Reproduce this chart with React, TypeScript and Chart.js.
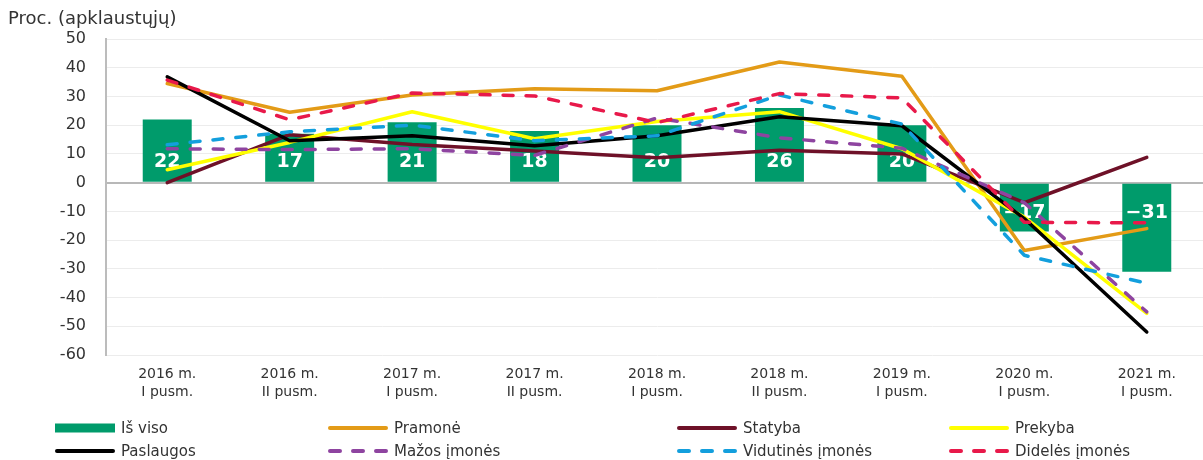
import React, { useEffect, useRef } from "react";
import { Chart, registerables } from "chart.js";

Chart.register(...registerables);

const categories: string[][] = [
  ["2016 m.", "I pusm."],
  ["2016 m.", "II pusm."],
  ["2017 m.", "I pusm."],
  ["2017 m.", "II pusm."],
  ["2018 m.", "I pusm."],
  ["2018 m.", "II pusm."],
  ["2019 m.", "I pusm."],
  ["2020 m.", "I pusm."],
  ["2021 m.", "I pusm."],
];

const isViso = [22, 17, 21, 18, 20, 26, 20, -17, -31];
const pramone = [34.5, 24.5, 30.5, 32.7, 32, 42, 37, -23.6, -16];
const statyba = [0, 16.7, 13.3, 11, 8.7, 11.3, 10, -7, 8.8];
const prekyba = [4.5, 14, 24.7, 15.3, 21.3, 24.7, 11.8, -12, -45.5];
const paslaugos = [36.8, 14.6, 16.3, 12.8, 16.3, 22.9, 19.8, -12.5, -52];
const mazos = [11.8, 11.5, 11.8, 9.5, 22.5, 15.6, 12, -7, -45];
const vidutines = [13.2, 17.7, 20, 14.6, 16.3, 30.5, 20.4, -25.3, -35];
const dideles = [35.7, 21.9, 31.2, 30.2, 20.9, 31, 29.5, -13.8, -14];

const yTicks = [50, 40, 30, 20, 10, 0, -10, -20, -30, -40, -50, -60];
const yTitle = "Proc. (apklaustųjų)";

const FONT = "'DejaVu Sans', sans-serif";
const TEXT = "#333333";

type LegendItem = { label: string; color: string; kind: "bar" | "line" | "dash" };

const legendItems: LegendItem[] = [
  { label: "Iš viso", color: "#009B6B", kind: "bar" },
  { label: "Pramonė", color: "#E39B17", kind: "line" },
  { label: "Statyba", color: "#6E1128", kind: "line" },
  { label: "Prekyba", color: "#FFFF00", kind: "line" },
  { label: "Paslaugos", color: "#000000", kind: "line" },
  { label: "Mažos įmonės", color: "#8E44A0", kind: "dash" },
  { label: "Vidutinės įmonės", color: "#139FDD", kind: "dash" },
  { label: "Didelės įmonės", color: "#E8194A", kind: "dash" },
];

const barLabelPlugin = {
  id: "barLabels",
  afterDatasetDraw(chart: any, args: any) {
    if (args.index !== 0) return;
    const { ctx } = chart;
    const meta = chart.getDatasetMeta(0);
    const y0 = chart.scales.y.getPixelForValue(0);
    ctx.save();
    ctx.fillStyle = "#ffffff";
    ctx.font = `bold 19px ${FONT}`;
    ctx.textAlign = "center";
    ctx.textBaseline = "middle";
    meta.data.forEach((el: any, i: number) => {
      const v = isViso[i];
      const txt = v < 0 ? "\u2212" + Math.abs(v) : String(v);
      const y = v >= 0 ? y0 - 21 : y0 + 30;
      ctx.fillText(txt, el.x, y);
    });
    ctx.restore();
  },
};

const legendPlugin = {
  id: "customLegend",
  afterDraw(chart: any) {
    const { ctx } = chart;
    const cols = [55, 328, 677, 949];
    const rows = [428, 451];
    ctx.save();
    ctx.font = `15px ${FONT}`;
    ctx.textBaseline = "middle";
    ctx.textAlign = "left";
    legendItems.forEach((it, i) => {
      const x = cols[i % 4];
      const y = rows[Math.floor(i / 4)];
      if (it.kind === "bar") {
        ctx.fillStyle = it.color;
        ctx.fillRect(x, y - 4.5, 60, 9);
      } else {
        ctx.strokeStyle = it.color;
        ctx.lineWidth = 4;
        ctx.lineCap = "round";
        ctx.setLineDash(it.kind === "dash" ? [10, 13] : []);
        ctx.beginPath();
        ctx.moveTo(x + 2, y);
        ctx.lineTo(x + 58, y);
        ctx.stroke();
        ctx.setLineDash([]);
      }
      ctx.fillStyle = TEXT;
      ctx.fillText(it.label, x + 66, y + 1);
    });
    ctx.restore();
  },
};

function lineDs(label: string, data: number[], color: string, dashed: boolean, order: number) {
  return {
    type: "line" as const,
    label,
    data,
    borderColor: color,
    backgroundColor: color,
    borderWidth: 3.5,
    borderDash: dashed ? [10, 13] : [],
    borderCapStyle: "round" as const,
    borderJoinStyle: "round" as const,
    pointRadius: 0,
    tension: 0,
    fill: false,
    order,
  };
}

export default function App() {
  const ref = useRef<HTMLCanvasElement | null>(null);

  useEffect(() => {
    if (!ref.current) return;
    const chart = new Chart(ref.current, {
      type: "bar",
      data: {
        labels: categories,
        datasets: [
          {
            type: "bar",
            label: legendItems[0].label,
            data: isViso,
            backgroundColor: legendItems[0].color,
            borderWidth: 0,
            barPercentage: 0.4,
            categoryPercentage: 1,
            order: 10,
          } as any,
          lineDs(legendItems[1].label, pramone, legendItems[1].color, false, 7),
          lineDs(legendItems[2].label, statyba, legendItems[2].color, false, 6),
          lineDs(legendItems[3].label, prekyba, legendItems[3].color, false, 5),
          lineDs(legendItems[4].label, paslaugos, legendItems[4].color, false, 4),
          lineDs(legendItems[5].label, mazos, legendItems[5].color, true, 3),
          lineDs(legendItems[6].label, vidutines, legendItems[6].color, true, 2),
          lineDs(legendItems[7].label, dideles, legendItems[7].color, true, 1),
        ],
      },
      options: {
        animation: false,
        responsive: false,
        maintainAspectRatio: false,
        layout: { padding: { top: 39, right: 0, bottom: 56, left: 0 } },
        plugins: {
          legend: { display: false },
          tooltip: { enabled: false },
        },
        scales: {
          x: {
            grid: { display: false, drawTicks: false },
            border: { display: false },
            ticks: {
              color: TEXT,
              font: { family: FONT, size: 14, lineHeight: 1.3 },
              padding: 10,
              maxRotation: 0,
              autoSkip: false,
            },
            afterFit: (s: any) => {
              s.height = 49;
            },
          },
          y: {
            min: -60,
            max: 50,
            afterBuildTicks: (s: any) => {
              s.ticks = yTicks.map((v) => ({ value: v }));
            },
            grid: {
              drawTicks: false,
              color: (c: any) => (c.tick && c.tick.value === 0 ? "#b8b8b8" : "#ececec"),
              lineWidth: (c: any) => (c.tick && c.tick.value === 0 ? 2 : 1),
            },
            border: { display: true, color: "#bcbcbc", width: 2 },
            ticks: {
              color: TEXT,
              font: { family: FONT, size: 16 },
              padding: 20,
            },
            afterFit: (s: any) => {
              s.width = 106;
            },
          },
        },
      },
      plugins: [barLabelPlugin, legendPlugin],
    });
    return () => chart.destroy();
  }, []);

  return (
    <div
      style={{
        position: "absolute",
        left: 0,
        top: 0,
        width: 1203,
        height: 460,
        overflow: "hidden",
        background: "#fff",
      }}
    >
      <canvas ref={ref} width={1208} height={460} style={{ position: "absolute", left: 0, top: 0 }} />
      <div
        style={{
          position: "absolute",
          left: 8,
          top: 7,
          fontFamily: FONT,
          fontSize: 18,
          color: TEXT,
          whiteSpace: "nowrap",
          lineHeight: "22px",
        }}
      >
        {yTitle}
      </div>
    </div>
  );
}
